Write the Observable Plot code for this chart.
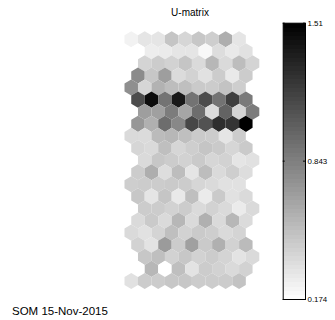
<!DOCTYPE html>
<html>
<head>
<meta charset="utf-8">
<script src="https://cdn.jsdelivr.net/npm/d3@7"></script>
<script src="https://cdn.jsdelivr.net/npm/@observablehq/plot@0.6"></script>
<style>
  html, body { margin: 0; padding: 0; background: #fff; }
  #fig { position: relative; width: 335px; height: 320px; overflow: hidden;
         font-family: "Liberation Sans", Arial, Helvetica, sans-serif; color: #000; }
  #fig > * { position: absolute; }
  .title { left: 140px; top: 7px; width: 100px; text-align: center; font-size: 10px; line-height: 12px; }
  .footer { left: 12px; top: 305px; font-size: 11.5px; line-height: 12px; white-space: nowrap; }
</style>
</head>
<body>
<div id="fig"></div>
<script>
// U-matrix of a 11x5 hexagonal SOM: 21 rows x 9 cells of unit distances
const title = "U-matrix";
const footer = "SOM 15-Nov-2015";
const colorbarTicks = [0.174, 0.843, 1.51];

const uRows = [
  [0.24, 0.31, 0.31, 0.48, 0.39, 0.47, 0.43, 0.60, 0.31],
  [0.174, 0.27, 0.28, 0.31, 0.31, 0.21, 0.35, 0.29, 0.33],
  [0.40, 0.44, 0.41, 0.48, 0.37, 0.55, 0.37, 0.52, 0.40],
  [0.78, 0.47, 0.68, 0.36, 0.41, 0.33, 0.44, 0.29, 0.44],
  [0.76, 0.39, 0.58, 0.52, 0.51, 0.45, 0.44, 0.49, 0.43],
  [1.11, 1.44, 0.91, 1.38, 0.91, 1.11, 0.91, 1.18, 0.87],
  [0.68, 0.67, 0.86, 0.64, 0.94, 0.36, 0.99, 0.40, 0.86],
  [0.72, 0.59, 0.94, 0.80, 1.14, 1.08, 1.27, 1.24, 1.51],
  [0.37, 0.36, 0.53, 0.55, 0.51, 0.45, 0.44, 0.31, 0.44],
  [0.39, 0.37, 0.51, 0.39, 0.43, 0.48, 0.45, 0.39, 0.45],
  [0.37, 0.47, 0.44, 0.41, 0.45, 0.39, 0.41, 0.31, 0.33],
  [0.44, 0.60, 0.35, 0.52, 0.31, 0.52, 0.37, 0.43, 0.35],
  [0.43, 0.44, 0.44, 0.45, 0.44, 0.39, 0.37, 0.33, 0.33],
  [0.47, 0.31, 0.48, 0.29, 0.51, 0.28, 0.45, 0.33, 0.37],
  [0.44, 0.44, 0.41, 0.44, 0.37, 0.41, 0.37, 0.28, 0.37],
  [0.37, 0.45, 0.37, 0.55, 0.37, 0.59, 0.37, 0.55, 0.36],
  [0.37, 0.33, 0.40, 0.51, 0.41, 0.45, 0.43, 0.37, 0.40],
  [0.41, 0.32, 0.70, 0.44, 0.67, 0.45, 0.59, 0.41, 0.53],
  [0.47, 0.51, 0.41, 0.47, 0.41, 0.44, 0.40, 0.32, 0.37],
  [0.174, 0.55, 0.174, 0.51, 0.32, 0.44, 0.41, 0.37, 0.41],
  [0.33, 0.44, 0.44, 0.47, 0.47, 0.44, 0.44, 0.44, 0.49]
];

// hexaU lattice: horizontal shift of each row repeats every four rows
const rowShift = [0, 0.5, 1, 0.5];

const cells = uRows.flatMap((vals, row) =>
  vals.map((value, col) => ({row, pos: col + rowShift[row % 4], value})));

const lo = colorbarTicks[0], hi = colorbarTicks[colorbarTicks.length - 1];
const colorScale = {type: "linear", domain: [lo, hi], range: ["#ffffff", "#000000"], interpolate: "rgb"};

// map geometry (pixels per lattice step)
const nCols = 10, nRows = uRows.length;
const mapLeft = 124, colStep = 13.48, mapTop = 38.7, rowStep = 12.09;
const mainW = 280, mainH = 320;

// pointy-top hexagon that tiles the lattice exactly
const hexU = {
  draw(ctx) {
    const w = colStep / 2, h = rowStep / 1.5;
    ctx.moveTo(0, -h);
    ctx.lineTo(w, -h / 2);
    ctx.lineTo(w, h / 2);
    ctx.lineTo(0, h);
    ctx.lineTo(-w, h / 2);
    ctx.lineTo(-w, -h / 2);
    ctx.closePath();
  }
};

const main = Plot.plot({
  width: mainW, height: mainH,
  marginLeft: mapLeft,
  marginRight: mainW - (mapLeft + nCols * colStep),
  marginTop: mapTop,
  marginBottom: mainH - (mapTop + (nRows - 1) * rowStep),
  x: {domain: [-0.5, nCols - 0.5], axis: null},
  y: {domain: [0, nRows - 1], reverse: true, axis: null},
  color: colorScale,
  style: {background: "transparent"},
  marks: [
    Plot.dot(cells, {x: "pos", y: "row", fill: "value", symbol: hexU, r: 4})
  ]
});

const bar = Plot.plot({
  width: 65, height: 320,
  marginLeft: 12.7, marginRight: 30, marginTop: 22.7, marginBottom: 21,
  x: {domain: [0, 1], axis: null},
  y: {domain: [lo, hi], axis: null},
  color: colorScale,
  style: {background: "transparent", overflow: "visible"},
  marks: [
    Plot.raster({x1: 0, x2: 1, y1: lo, y2: hi, width: 1, height: 64,
                 fill: (x, y) => y, imageRendering: "pixelated"}),
    Plot.ruleY(colorbarTicks, {x1: 0, x2: 0.09, stroke: "#000"}),
    Plot.ruleY(colorbarTicks, {x1: 0.91, x2: 1, stroke: "#000"}),
    Plot.frame({stroke: "#000"}),
    Plot.text(colorbarTicks, {x: 1, y: d => d, dx: 2, textAnchor: "start",
                              text: d => String(d), fontSize: 7.9,
                              fontFamily: "Liberation Sans, Arial, sans-serif", fill: "#000"})
  ]
});

const fig = document.getElementById("fig");
main.style.left = "0px"; main.style.top = "0px";
bar.style.left = "270px"; bar.style.top = "0px";
fig.appendChild(main);
fig.appendChild(bar);

const t = document.createElement("div");
t.className = "title"; t.textContent = title;
fig.appendChild(t);
const f = document.createElement("div");
f.className = "footer"; f.textContent = footer;
fig.appendChild(f);
</script>
</body>
</html>
